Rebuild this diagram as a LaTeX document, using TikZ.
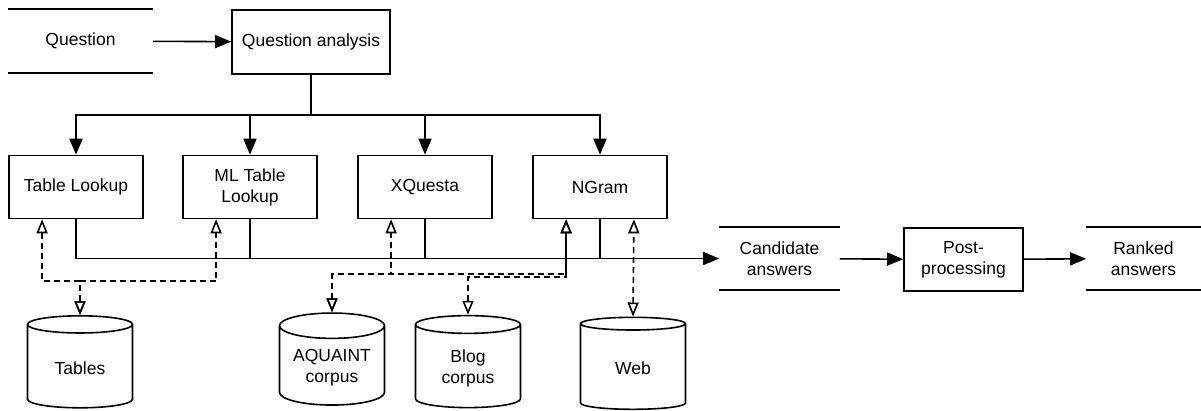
\documentclass[tikz,border=0pt]{standalone}
\usepackage{fontspec}
\setmainfont{Liberation Sans}
\usetikzlibrary{arrows.meta,shapes.geometric,calc}

\begin{document}
\begin{tikzpicture}[x=1pt, y=-1pt, line width=1.6pt,
    font=\fontsize{17.5}{21}\selectfont,
    proc/.style={draw, rectangle, minimum width=134pt, minimum height=63pt, align=center, inner sep=2pt},
    store/.style={rectangle, minimum width=119pt, minimum height=61pt, align=center},
    db/.style={draw, cylinder, shape border rotate=90, aspect=0.3, minimum width=105pt, minimum height=92pt, align=center},
    flow/.style={-{Triangle[length=16pt,width=13pt]}},
    dep/.style={dash pattern=on 6pt off 4pt, {Triangle[open,length=14pt,width=11pt]}-{Triangle[open,length=14pt,width=11pt]}}]
    \useasboundingbox (0,0) rectangle (1201,410);

    % input and question analysis
    \node[store, minimum width=143pt, minimum height=62pt] (q) at (80.5,41) {Question};
    \node[proc, minimum width=158pt, minimum height=64pt] (qa) at (311,42) {Question analysis};

    % answer sources
    \node[proc] (tl) at (76,187) {Table Lookup};
    \node[proc] (ml) at (250,187) {ML Table\\Lookup};
    \node[proc] (xq) at (425,187) {XQuesta};
    \node[proc] (ng) at (600,187) {NGram};

    % output side
    \node[store] (cand) at (779.5,258.5) {Candidate\\answers};
    \node[proc, minimum width=119pt] (post) at (963.5,259.5) {Post-\\processing};
    \node[store, minimum width=113pt] (rank) at (1143.5,258.5) {Ranked\\answers};

    % data stores
    \node[db] (tab) at (80,368) {Tables};
    \node[db] (aq) at (332,368) {AQUAINT\\corpus};
    \node[db] (blog) at (468,368) {Blog\\corpus};
    \node[db] (web) at (633,368) {Web};

    \foreach \n in {q,cand,rank}
      \draw (\n.north west) -- (\n.north east) (\n.south west) -- (\n.south east);

    % main flow
    \draw[flow] (q) -- (qa);
    \foreach \b in {tl,ml,xq,ng}
      \draw[flow] (qa.south) -- ++(0,40) -| (\b.north);
    \draw[flow] (tl.south) |- (cand.west);
    \foreach \b in {ml,xq,ng}
      \draw (\b.south) -- (\b.south |- cand.west);
    \draw[flow] (cand) -- (post);
    \draw[flow] (post) -- (rank);

    % lookups in the data stores
    \draw[dep] (tab.north) -- ++(0,-34) -| ($(tl.south)!0.5!(tl.south west)$);
    \draw[dep] (tab.north) -- ++(0,-34) -| ($(ml.south)!0.5!(ml.south west)$);
    \draw[dep] (aq.north) -- ++(0,-38) -| ($(xq.south)!0.5!(xq.south west)$);
    \draw[dep] (aq.north) -- ++(0,-38) -| ($(ng.south)!0.5!(ng.south west)$);
    \draw[dep] (blog.north) -- ++(0,-38) -| ($(ng.south)!0.5!(ng.south west)$);
    \draw[dep] (web.north) -- ($(ng.south)!0.5!(ng.south east)$);
\end{tikzpicture}
\end{document}
